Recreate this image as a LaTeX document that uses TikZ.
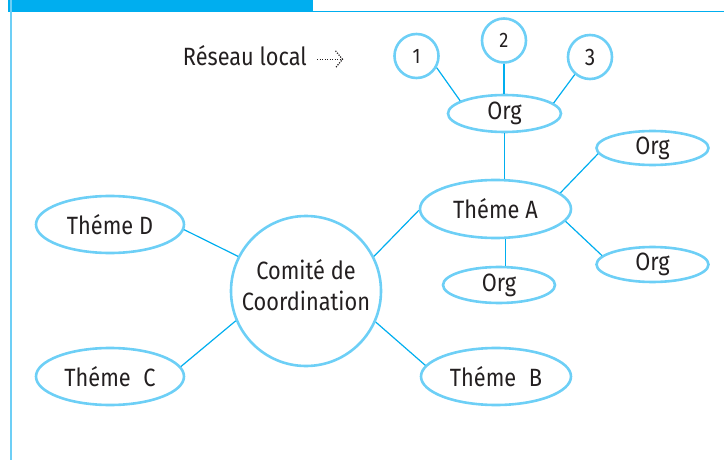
\documentclass[tikz,border=0pt]{standalone}
\usepackage{fontspec}
\usetikzlibrary{shapes.geometric}
\setmainfont{Fira Sans}[FakeStretch=0.87]
\definecolor{bord}{HTML}{6DCFF6}
\definecolor{lin}{HTML}{00AEEF}
\definecolor{txt}{HTML}{231F20}
\begin{document}
\begin{tikzpicture}[x=1pt,y=-1pt,
  ell/.style={draw=bord,line width=2.6pt,ellipse,inner sep=0pt,text=txt},
  conn/.style={draw=lin,line width=1.2pt},
  big/.style={font=\fontsize{25}{31}\selectfont},
  num/.style={font=\fontsize{21}{24}\selectfont},
  dots/.style={txt,line width=1.2pt,dash pattern=on 1.2pt off 1.3pt}]
\useasboundingbox (0,0) rectangle (724,460);
\fill[lin] (8,0) rectangle (313,11);
\draw[lin,line width=1.6pt] (8,11.5) -- (724,11.5);
\draw[bord,line width=2pt] (10.5,0) -- (10.5,460);
% nodes
\node[ell,circle,minimum size=150pt,big,align=center,text depth=12pt] (C) at (306,291) {Comité de\\Coordination};
\node[ell,minimum width=151pt,minimum height=58pt,big] (A) at (495.5,209) {Théme A};
\node[ell,minimum width=150pt,minimum height=57pt,big] (B) at (496,376.5) {Théme\hspace{0.5em}B};
\node[ell,minimum width=148pt,minimum height=57pt,big] (Cc) at (110,376.5) {Théme\hspace{0.5em}C};
\node[ell,minimum width=148pt,minimum height=57pt,big] (D) at (110,224.5) {Théme D};
\node[ell,minimum width=113pt,minimum height=37pt,big] (O) at (504.5,113.5) {Org};
\node[ell,minimum width=112pt,minimum height=34pt,big] (O1) at (652.5,148) {Org};
\node[ell,minimum width=112pt,minimum height=35pt,big] (O2) at (652.5,264.5) {Org};
\node[ell,minimum width=112pt,minimum height=36pt,big] (O3) at (499,285) {Org};
\node[ell,circle,minimum size=44pt,num] (n1) at (416.5,56) {1};
\node[ell,circle,minimum size=44pt,num] (n2) at (504,40.5) {2};
\node[ell,circle,minimum size=44pt,font=\fontsize{24}{27}\selectfont] (n3) at (590,57) {3};
\node[big,text=txt,anchor=base west,inner sep=0pt] (R) at (182.7,66) {Réseau local};
\coordinate (r0) at (317,59.3);
\coordinate (r1) at (342.5,59.3);
% connectors
\draw[conn] (O.164) -- (n1.-30);
\draw[conn] (n2.south) -- (n2.south |- O.north);
\draw[conn] (O.12.5) -- (n3.229);
\draw[conn] (O.south) -- (O.south |- A.north);
\draw[conn] (A.14.5) -- (O1.186);
\draw[conn] (A.-10.5) -- (O2.170.4);
\draw[conn] (A.-72) -- (A.-72 |- O3.north);
\draw[conn] (C.27) -- (A.181);
\draw[conn] (C.-24.5) -- (B.171);
\draw[conn] (C.203.5) -- (Cc.8);
\draw[conn] (C.153) -- (D.-4);
\draw[dots] (r0) -- (r1);
\draw[dots] ([shift={(-7,-8.5)}]r1) -- (r1) -- ([shift={(-7,8.5)}]r1);
\end{tikzpicture}
\end{document}
